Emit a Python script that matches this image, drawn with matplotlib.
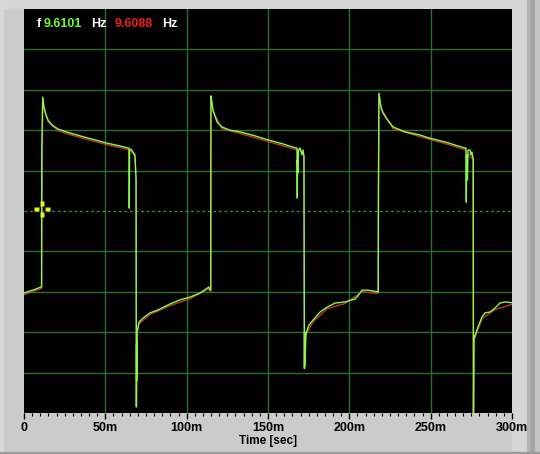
import matplotlib
matplotlib.use("Agg")
import matplotlib.pyplot as plt
from matplotlib.path import Path
from matplotlib.patches import Rectangle

# ---- data (time in ms, amplitude in grid divisions) ----
green_t = [0, 3.7, 7.4, 10.4, 10.8, 10.9, 11.5, 12.3, 13.5, 14.8, 17.2, 20.9, 25.8,
           34.4, 43.7, 51.0, 59.0, 63.9, 64.6, 64.7, 64.9, 65.8, 67.0, 68.2, 68.9,
           69.1, 69.2, 69.25, 69.3, 69.4, 69.5, 70.7, 73.2, 77.5, 82.4, 89.8, 95.9,
           102.1, 108.2, 113.7, 114.4, 114.8, 114.9, 115.6, 116.2, 118.7, 121.7,
           126.6, 132.8, 142.0, 150.0, 159.2, 167.2, 167.8, 168.0, 168.1, 168.4,
           168.7, 169.7, 170.9, 171.5, 172.1, 172.3, 172.4, 172.5, 172.6, 173.4,
           175.2, 177.7, 182.0, 186.3, 191.2, 197.3, 203.5, 205.3, 207.8, 211.5,
           217.6, 217.8, 217.9, 218.2, 219.5, 220.7, 222.6, 226.9, 234.2, 243.5,
           249.6, 258.8, 266.8, 271.1, 271.7, 271.9, 272.1, 272.6, 273.0, 274.2,
           274.8, 275.4, 276.0, 276.2, 276.3, 276.6, 277.0, 279.1, 281.6, 283.5,
           286.5, 289.6, 292.6, 295.7, 300]
green_v = [-2.03, -1.98, -1.93, -1.88, -1.88, 1.5, 2.82, 2.57, 2.38, 2.25, 2.13, 2.03, 1.96,
           1.86, 1.76, 1.68, 1.61, 1.56, 1.56, 0.07, 1.51, 1.53, 1.46, 1.39, 0.77,
           -4.85, -3.3, -4.2, -3.2, -4.0, -3.0, -2.75, -2.65, -2.52, -2.45, -2.30, -2.20,
           -2.13, -2.03, -1.88, -1.96, -1.96, 2.85, 2.67, 2.50, 2.20, 2.08,
           2.00, 1.96, 1.86, 1.76, 1.66, 1.56, 1.56, 0.32, 1.26, 0.94,
           1.51, 1.56, 1.39, 1.51, 1.36, -2.33, -3.9, -3.0, -3.85, -3.02,
           -2.82, -2.70, -2.50, -2.38, -2.28, -2.25, -2.18, -2.10, -1.96, -1.96,
           -2.0, -2.0, 0.45, 2.92, 2.57, 2.43, 2.30, 2.08, 1.96, 1.88,
           1.80, 1.71, 1.61, 1.56, 1.56, 0.22, 1.39, 0.77, 1.51, 1.51,
           1.39, 1.46, 1.31, 1.31, -5.3, -3.1, -3.12, -2.87, -2.62, -2.52,
           -2.50, -2.40, -2.28, -2.25, -2.27]

# second channel, hidden behind the first except for a thin edge
red_t = [0, 10.4, 10.8, 11.5, 12.3, 14.8, 20.9, 25.8, 34.4, 43.7, 51.0, 59.0, 63.9,
         65.8, 68.2, 68.9, 69.1, 69.5, 70.7, 77.5, 89.8, 102.1, 113.7, 114.8, 114.9,
         116.2, 121.7, 132.8, 150.0, 167.2, 171.5, 172.1, 172.4, 172.6, 173.4, 177.7,
         186.3, 197.3, 207.8, 217.6, 218.2, 219.5, 226.9, 243.5, 258.8, 271.1, 276.0,
         276.3, 276.6, 277.0, 281.6, 289.6, 300]
red_v = [-2.07, -1.92, -1.92, 2.78, 2.53, 2.21, 1.99, 1.92, 1.82, 1.72, 1.64, 1.57, 1.52,
         1.49, 1.35, 0.77, -4.85, -3.0, -2.79, -2.56, -2.34, -2.17, -1.92, -2.0, 2.81,
         2.46, 2.04, 1.92, 1.72, 1.52, 1.47, 1.32, -3.9, -3.05, -3.06, -2.74,
         -2.42, -2.29, -2.0, -2.04, 2.88, 2.53, 2.04, 1.84, 1.67, 1.52, 1.27,
         -5.3, -3.1, -3.16, -2.66, -2.44, -2.31]

cursor_t, cursor_v = 10.8, 0.05
freq_green = "9.6101"
freq_red = "9.6088"

x_ticks = [0, 50, 100, 150, 200, 250, 300]
x_labels = ["0", "50m", "100m", "150m", "200m", "250m", "300m"]
y_grid = [-4, -3, -2, -1, 1, 2, 3, 4]

# ---- figure ----
plt.rcParams['font.family'] = ['Liberation Sans', 'DejaVu Sans']
fig = plt.figure(figsize=(5.4, 4.54), dpi=100, facecolor='#cbcbcb')
W, H = 540, 454

# window chrome
chrome = [((0, 1 - 8 / H), 1, 8 / H, '#d6d6d6'),
          ((512 / W, 0), 15 / W, 1, '#d6d6d6'),
          ((527 / W, 0), 4 / W, 1, '#b4b4b4'),
          ((531 / W, 0), 4 / W, 1, '#a2a2a2'),
          ((535 / W, 0), 5 / W, 1, '#c4c4c4'),
          ((0, 0), 3 / W, 1, '#d8d8d8'),
          ((0, 0), 1, 2 / H, '#9a9a9a')]
for xy, w, h, c in chrome:
    fig.patches.append(Rectangle(xy, w, h, transform=fig.transFigure,
                                 color=c, zorder=-5))

ax = fig.add_axes([24 / W, 41 / H, 488 / W, 404 / H])
ax.set_zorder(2)
ax.set_facecolor('black')
ax.set_xlim(0, 300)
ax.set_ylim(-5, 5)

# grid
for x in x_ticks[1:-1]:
    ax.axvline(x, color='#2f6e2f', lw=1, zorder=1)
for y in y_grid:
    ax.axhline(y, color='#2f6e2f', lw=1, zorder=1)
ax.axhline(0, color='#3c8a3c', lw=1, ls=(0, (2, 2)), zorder=1)

# traces
ax.plot(red_t, red_v, color='#b8401a', lw=1.0, zorder=2)
ax.plot(green_t, green_v, color='#8cf550', lw=1.0, zorder=3)

# cursor
arm0, arm1, hw = 0.35, 1.0, 0.22
verts, codes = [], []
for (x0, y0, x1, y1) in [(arm0, -hw, arm1, hw), (-arm1, -hw, -arm0, hw),
                         (-hw, arm0, hw, arm1), (-hw, -arm1, hw, -arm0)]:
    verts += [(x0, y0), (x1, y0), (x1, y1), (x0, y1), (x0, y0)]
    codes += [Path.MOVETO, Path.LINETO, Path.LINETO, Path.LINETO, Path.CLOSEPOLY]
ax.plot([cursor_t], [cursor_v], marker=Path(verts, codes), ms=11, color='#e8f020',
        mec='none', zorder=5)

# axes styling
ax.set_xticks(x_ticks)
ax.set_xticklabels(x_labels, fontsize=9, fontweight='bold')
ax.set_xticks(range(0, 301, 5), minor=True)
ax.set_yticks([])
ax.tick_params(axis='x', which='major', length=4.5, width=1, pad=2, color='black')
ax.tick_params(axis='x', which='minor', length=2.2, width=0.8, color='black')
for s in ax.spines.values():
    s.set_visible(False)
ax.set_xlabel("Time [sec]", fontsize=8.5, fontweight='bold', labelpad=1)

# frequency readout
ty = 1 - 24 / H
fig.text(37 / W, ty, "f", color='white', fontsize=9, fontweight='bold', va='center')
fig.text(44 / W, ty, freq_green, color='#66ff33', fontsize=9, fontweight='bold', va='center')
fig.text(91 / W, ty, "Hz", color='white', fontsize=9, fontweight='bold', va='center')
fig.text(115 / W, ty, freq_red, color='#ee1c1c', fontsize=9, fontweight='bold', va='center')
fig.text(162 / W, ty, "Hz", color='white', fontsize=9, fontweight='bold', va='center')

fig.savefig("out.png", dpi=100, facecolor=fig.get_facecolor())
